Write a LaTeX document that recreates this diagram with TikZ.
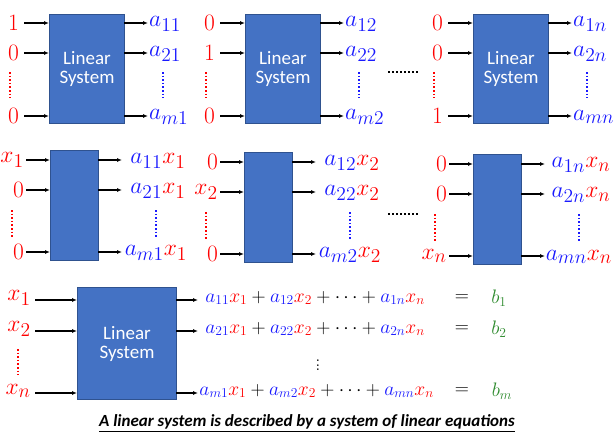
\documentclass[tikz,border=0pt]{standalone}
\usepackage{fontspec}
\newfontfamily\carl{Carlito}
\usetikzlibrary{arrows.meta}
\definecolor{boxfill}{HTML}{4472C4}
\definecolor{boxline}{HTML}{2F528F}
\definecolor{myred}{HTML}{FF0000}
\definecolor{myblue}{HTML}{1A1AFF}
\definecolor{mygreen}{HTML}{2E8B2E}
\newcommand\mth[1]{\scalebox{1.36}{$#1$}}
\newcommand\eqm[1]{\scalebox{1.13}{$#1$}}
\begin{document}
\begin{tikzpicture}[x=1pt,y=-1pt,
  sys/.style={draw=boxline,fill=boxfill,line width=1pt},
  arr/.style={-{Latex[length=5pt,width=4pt]},line width=1.4pt},
  inl/.style={text=myred,font=\fontsize{19}{19}\selectfont,inner sep=0pt},
  outl/.style={text=myblue,font=\fontsize{19}{19}\selectfont,inner sep=0pt},
  lab/.style={text=white,font=\carl\fontsize{19}{22}\selectfont,align=center},
  rdots/.style={myred,dotted,line width=1.6pt},
  bdots/.style={myblue,dotted,line width=1.6pt}]
\useasboundingbox (0,0) rectangle (614,445);
\fill[white] (0,0) rectangle (614,445);
% ---------- top row
\foreach \n/\bx/\ia/\ib/\ic/\oa/\ob/\oc in {1/49/1/0/0/11/21/m1, 2/245/0/1/0/12/22/m2, 3/473/0/0/1/1n/2n/mn}{
  \node[sys,minimum width=75pt,minimum height=109pt,inner sep=0pt,anchor=north west] (T\n) at (\bx,14) {};
  \node[lab] (TL\n) at (T\n.center) {Linear\\[-3pt]System};
  \foreach \r/\y/\iv/\ov in {a/23/\ia/\oa, b/53/\ib/\ob, c/116/\ic/\oc}{
    \node[inl,anchor=east] (Ti\n\r) at (\bx-30,\y) {\mth{\iv}};
    \coordinate (Tis\n\r) at (\bx-25,\y);
    \coordinate (Tie\n\r) at (\bx,\y);
    \draw[arr] (Tis\n\r) -- (Tie\n\r);
    \coordinate (Tos\n\r) at (\bx+75,\y);
    \coordinate (Toe\n\r) at (\bx+99,\y);
    \draw[arr] (Tos\n\r) -- (Toe\n\r);
    \node[outl,anchor=west] (To\n\r) at (\bx+100,\y+1) {\mth{a_{\ov}}};
  }
  \draw[rdots] (\bx-39,72) -- (\bx-39,98);
  \draw[bdots] (\bx+114,72) -- (\bx+114,98);
}
\draw[dotted,line width=2pt] (388,72) -- (419,72);
% ---------- middle row
\foreach \n/\bx/\by/\ia/\ib/\ic/\k/\mk in {1/50/150/x_1/0/0/1/m1, 2/244/152/0/x_2/0/2/m2, 3/473/154/0/0/x_n/n/mn}{
  \node[sys,minimum width=48pt,minimum height=110pt,inner sep=0pt,anchor=north west] (M\n) at (\bx,\by) {};
  \foreach \r/\dy/\iv in {a/10/\ia, b/40/\ib, c/102/\ic}{
    \node[inl,anchor=east] (Mi\n\r) at (\bx-26,\by+\dy) {\mth{\iv}};
    \coordinate (Mis\n\r) at (\bx-24,\by+\dy);
    \coordinate (Mie\n\r) at (\bx,\by+\dy);
    \draw[arr] (Mis\n\r) -- (Mie\n\r);
    \coordinate (Mos\n\r) at (\bx+48,\by+\dy);
    \coordinate (Moe\n\r) at (\bx+72,\by+\dy);
    \draw[arr] (Mos\n\r) -- (Moe\n\r);
  }
  \node[outl] (Moa\n) at (\bx+108,\by+11) {\mth{a_{1\k}\textcolor{myred}{x_\k}}};
  \node[outl] (Mob\n) at (\bx+108,\by+41) {\mth{a_{2\k}\textcolor{myred}{x_\k}}};
  \node[outl] (Moc\n) at (\bx+106,\by+103) {\mth{a_{\mk}\textcolor{myred}{x_\k}}};
  \draw[rdots] (\bx-38,\by+60) -- (\bx-38,\by+87);
  \draw[bdots] (\bx+106,\by+60) -- (\bx+106,\by+87);
}
\draw[dotted,line width=2pt] (388,214) -- (419,214);
% ---------- bottom row
\node[sys,minimum width=99pt,minimum height=112pt,inner sep=0pt,anchor=north west] (B) at (77,287) {};
\node[lab] (BL) at (B.center) {Linear\\[-3pt]System};
\foreach \r/\y/\iv in {a/300/x_1, b/331/x_2, c/393/x_n}{
  \node[inl,anchor=east] (Bi\r) at (31,\y-2) {\mth{\iv}};
  \coordinate (Bis\r) at (35,\y);
  \coordinate (Bie\r) at (77,\y);
  \draw[arr] (Bis\r) -- (Bie\r);
  \coordinate (Bos\r) at (176,\y);
  \coordinate (Boe\r) at (198,\y);
  \draw[arr] (Bos\r) -- (Boe\r);
}
\draw[rdots] (18,349) -- (18,375);
\tikzset{eq/.style={font=\fontsize{18}{18}\selectfont,inner sep=0pt}}
\node[eq,anchor=east] (E1) at (425,298) {\eqm{\textcolor{myblue}{a_{11}}\textcolor{myred}{x_1}+\textcolor{myblue}{a_{12}}\textcolor{myred}{x_2}+\cdots+\textcolor{myblue}{a_{1n}}\textcolor{myred}{x_n}}};
\node[eq,anchor=east] (E2) at (425,329) {\eqm{\textcolor{myblue}{a_{21}}\textcolor{myred}{x_1}+\textcolor{myblue}{a_{22}}\textcolor{myred}{x_2}+\cdots+\textcolor{myblue}{a_{2n}}\textcolor{myred}{x_n}}};
\node[eq,anchor=east] (E3) at (434,391) {\eqm{\textcolor{myblue}{a_{m1}}\textcolor{myred}{x_1}+\textcolor{myblue}{a_{m2}}\textcolor{myred}{x_2}+\cdots+\textcolor{myblue}{a_{mn}}\textcolor{myred}{x_n}}};
\node[eq] (V) at (318,362) {\eqm{\vdots}};
\node[eq] (Q1) at (462,298) {\eqm{=}};
\node[eq] (Q2) at (462,329) {\eqm{=}};
\node[eq] (Q3) at (462,391) {\eqm{=}};
\node[eq,text=mygreen] (R1) at (499,298) {\eqm{b_1}};
\node[eq,text=mygreen] (R2) at (499,329) {\eqm{b_2}};
\node[eq,text=mygreen] (R3) at (502,391) {\eqm{b_m}};
\node (C) at (307,423) {\carl\bfseries\itshape\fontsize{17}{17}\selectfont\underline{A linear system is described by a system of linear equations}};
\end{tikzpicture}
\end{document}
